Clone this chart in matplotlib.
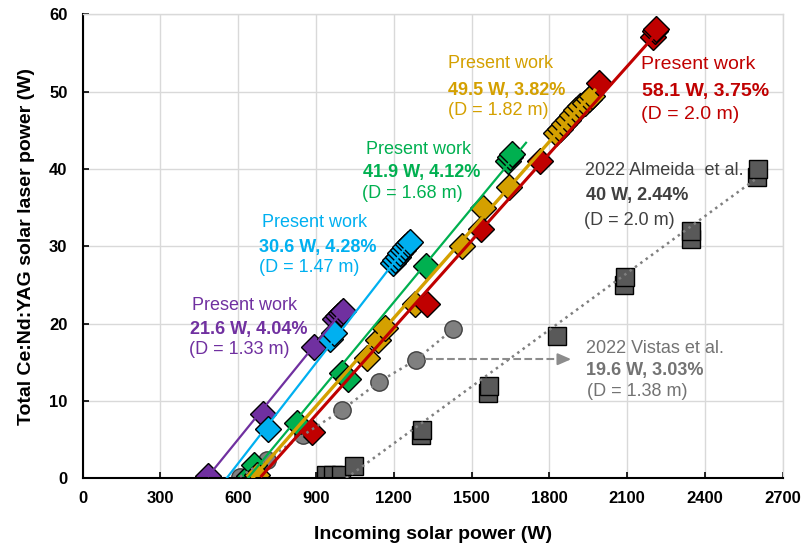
import numpy as np
import matplotlib.pyplot as plt

plt.rcParams['font.family'] = ['Liberation Sans', 'DejaVu Sans']

# Incoming solar power (W) vs total laser power (W)
purple_x = [485, 694, 892, 975, 985, 995, 1003]
purple_y = [0.3, 8.3, 17.0, 20.6, 21.0, 21.4, 21.6]

cyan_x = [713, 955, 968, 1195, 1205, 1215, 1225, 1235, 1245, 1255, 1262]
cyan_y = [6.4, 18.0, 18.8, 27.8, 28.2, 28.6, 29.1, 29.5, 29.9, 30.3, 30.6]

green_x = [640, 662, 825, 999, 1024, 1324, 1640, 1648, 1655]
green_y = [0.3, 1.7, 7.1, 13.6, 12.9, 27.5, 41.0, 41.5, 41.9]

orange_x = [671, 1095, 1140, 1166, 1282, 1462, 1545, 1645,
            1825, 1840, 1856, 1872, 1888, 1904, 1920, 1936, 1952, 1966]
orange_y = [0.4, 15.5, 17.9, 19.4, 22.6, 30.0, 34.9, 37.7,
            44.6, 45.2, 45.8, 46.4, 47.0, 47.6, 48.1, 48.6, 49.1, 49.5]

red_x = [883, 1327, 1535, 1764, 1991, 2200, 2207, 2212]
red_y = [6.0, 22.6, 32.3, 41.0, 51.1, 57.1, 57.8, 58.1]

vistas_x = [607, 709, 851, 999, 1144, 1285, 1429]
vistas_y = [0.2, 2.4, 5.6, 8.8, 12.5, 15.3, 19.3]

almeida_x = [940, 966, 996, 1048, 1305, 1310, 1565, 1568, 1828, 2088, 2090, 2345, 2347, 2600, 2603]
almeida_y = [0.4, 0.4, 0.4, 1.6, 5.6, 6.2, 11.0, 12.0, 18.4, 25.0, 26.0, 31.0, 32.0, 39.0, 40.0]

# trend lines (start and end points)
purple_fit_x, purple_fit_y = [485, 1003], [0.3, 21.7]
cyan_fit_x, cyan_fit_y = [555, 1265], [0.0, 30.7]
green_fit_x, green_fit_y = [637, 1710], [0.0, 43.4]
orange_fit_x, orange_fit_y = [655, 1975], [0.0, 50.2]
red_fit_x, red_fit_y = [690, 2207], [0.3, 57.3]
almeida_fit_x, almeida_fit_y = [1016, 2600], [0.0, 38.8]

arrow_x, arrow_y = [1320, 1895], [15.4, 15.4]

PURPLE = '#7030A0'
CYAN = '#00B0F0'
GREEN = '#00B050'
ORANGE = '#D4A000'
RED = '#C00000'

fig = plt.figure(figsize=(8.03, 5.51), dpi=100)
ax = fig.add_axes([0.103, 0.132, 0.8717, 0.8418])

mk = dict(linestyle='none', markeredgecolor='black', markeredgewidth=1.0, zorder=2)
ax.plot(almeida_x, almeida_y, marker='s', ms=12.5, color='#595959', **mk)
ax.plot(vistas_x, vistas_y, marker='o', ms=12.5, color='#808080',
        linestyle='none', markeredgecolor='#404040', markeredgewidth=1.0, zorder=2)
ax.plot(purple_x, purple_y, marker='D', ms=13, color=PURPLE, **mk)
ax.plot(cyan_x, cyan_y, marker='D', ms=13, color=CYAN, **mk)
ax.plot(green_x, green_y, marker='D', ms=13, color=GREEN, **mk)
ax.plot(orange_x, orange_y, marker='D', ms=13, color=ORANGE, **mk)
ax.plot(red_x, red_y, marker='D', ms=13, color=RED, **mk)

# trend lines above the markers
ax.plot(almeida_fit_x, almeida_fit_y, ':', color='#7f7f7f', lw=1.8, zorder=3)
ax.plot(vistas_x, vistas_y, ':', color='#7f7f7f', lw=1.8, zorder=3)
ax.plot(purple_fit_x, purple_fit_y, color=PURPLE, lw=1.6, zorder=3)
ax.plot(cyan_fit_x, cyan_fit_y, color=CYAN, lw=1.6, zorder=3)
ax.plot(green_fit_x, green_fit_y, color=GREEN, lw=1.6, zorder=3)
ax.plot(orange_fit_x, orange_fit_y, color=ORANGE, lw=2.4, zorder=3)
ax.plot(red_fit_x, red_fit_y, color=RED, lw=2.2, zorder=3)

# dashed arrow pointing to the Vistas label
ax.plot([arrow_x[0], arrow_x[1] - 40], arrow_y, '--', color='#8c8c8c', lw=1.5, zorder=3)
ax.annotate('', xy=(arrow_x[1], arrow_y[1]), xytext=(arrow_x[1] - 45, arrow_y[0]),
            arrowprops=dict(arrowstyle='-|>,head_length=0.8,head_width=0.35',
                            color='#8c8c8c', lw=1.5), zorder=3)

# labels
def label(x, ys, lines, color, size=13):
    ax.text(x[0], ys[0], lines[0], color=color, fontsize=size, ha='left', va='center')
    ax.text(x[1], ys[1], lines[1], color=color, fontsize=size, ha='left', va='center',
            fontweight='bold')
    ax.text(x[2], ys[2], lines[2], color=color, fontsize=size, ha='left', va='center')

label([421, 414, 410], [22.4, 19.2, 16.6],
      ['Present work', '21.6 W, 4.04%', '(D = 1.33 m)'], PURPLE)
label([690, 681, 681], [33.1, 29.8, 27.2],
      ['Present work', '30.6 W, 4.28%', '(D = 1.47 m)'], CYAN)
label([1091, 1080, 1076], [42.5, 39.5, 36.8],
      ['Present work', '41.9 W, 4.12%', '(D = 1.68 m)'], GREEN)
label([1410, 1408, 1408], [53.7, 50.2, 47.6],
      ['Present work', '49.5 W, 3.82%', '(D = 1.82 m)'], ORANGE)
label([2153, 2156, 2152], [53.5, 50.0, 47.0],
      ['Present work', '58.1 W, 3.75%', '(D = 2.0 m)'], RED, size=14)
label([1937, 1940, 1934], [39.8, 36.6, 33.4],
      ['2022 Almeida  et al.', '40 W, 2.44%', '(D = 2.0 m)'], '#404040')
label([1941, 1941, 1947], [16.8, 13.9, 11.2],
      ['2022 Vistas et al.', '19.6 W, 3.03%', '(D = 1.38 m)'], '#737373')

ax.set_xlim(0, 2700)
ax.set_ylim(0, 60)
ax.set_xticks(np.arange(0, 2701, 300))
ax.set_yticks(np.arange(0, 61, 10))
ax.grid(True, color='#d9d9d9', lw=1.0, zorder=0)
ax.set_axisbelow(True)
ax.tick_params(axis='x', direction='in', length=4, width=1.2, labelsize=12, pad=9.5)
ax.tick_params(axis='y', direction='in', length=4, width=1.2, labelsize=12, pad=11)
for t in ax.get_xticklabels() + ax.get_yticklabels():
    t.set_fontweight('bold')

for s in ['top', 'right']:
    ax.spines[s].set_color('#d9d9d9')
    ax.spines[s].set_linewidth(1.0)
for s in ['left', 'bottom']:
    ax.spines[s].set_color('black')
    ax.spines[s].set_linewidth(1.5)

ax.set_xlabel('Incoming solar power (W)', fontsize=14, fontweight='bold', labelpad=14)
ax.set_ylabel('Total Ce:Nd:YAG solar laser power (W)', fontsize=14, fontweight='bold',
              labelpad=10)

fig.savefig('out.png', dpi=100)
